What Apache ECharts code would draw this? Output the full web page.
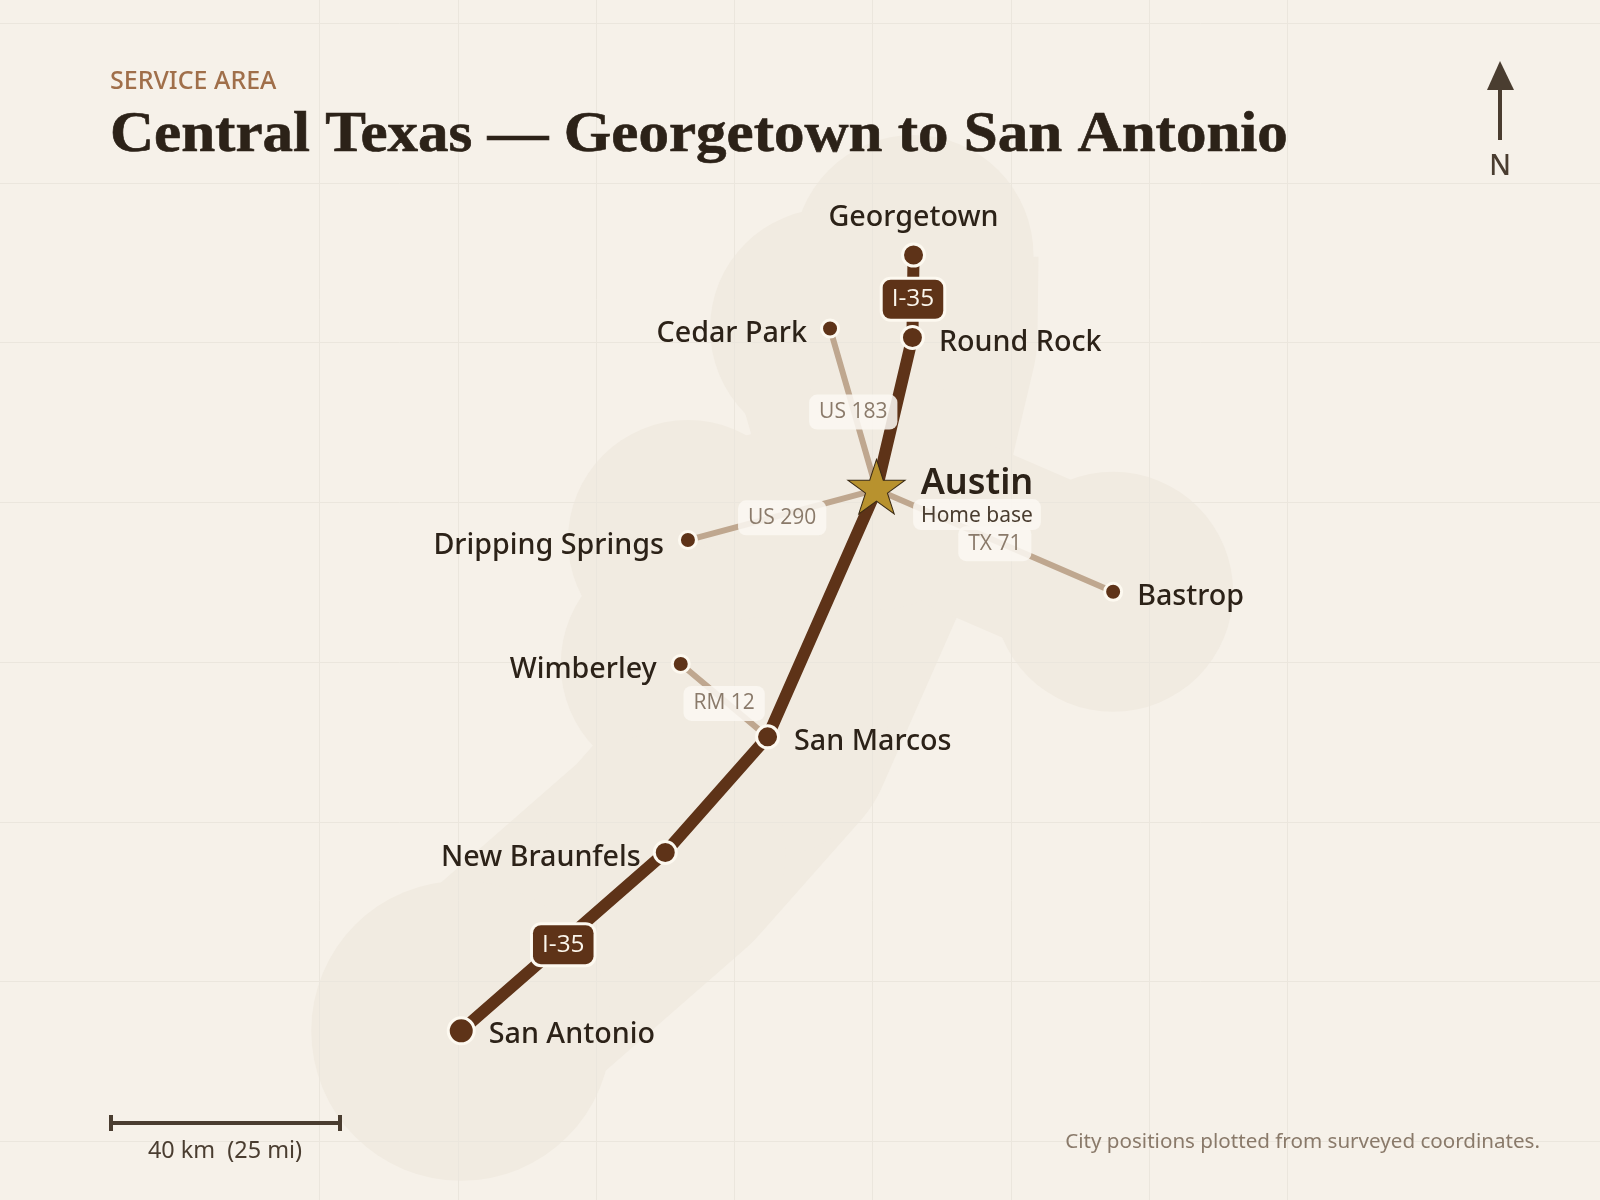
<!DOCTYPE html>
<html><head><meta charset="utf-8">
<style>html,body{margin:0;padding:0;background:#f6f1e9}#c{width:1600px;height:1200px}</style>
<script src="https://cdn.jsdelivr.net/npm/echarts@6/dist/echarts.min.js"></script>
</head><body><div id="c"></div>
<script>
const cityNames = ['Georgetown','Round Rock','Cedar Park','Austin','Bastrop','Dripping Springs','Wimberley','San Marcos','New Braunfels','San Antonio'];
const cityLon = [-97.676,-97.678,-97.827,-97.743,-97.315,-98.084,-98.097,-97.940,-98.125,-98.494];
const cityLat = [30.637,30.508,30.522,30.270,30.110,30.191,29.997,29.883,29.702,29.423];
const i35Cities = ['Georgetown','Round Rock','Austin','San Marcos','New Braunfels','San Antonio'];
const spokeRoutes = [['US 183','Cedar Park','Austin'],['US 290','Dripping Springs','Austin'],['TX 71','Bastrop','Austin'],['RM 12','Wimberley','San Marcos']];
const i35Shields = [['I-35','Georgetown','Round Rock'],['I-35','New Braunfels','San Antonio']];
const FONT = '"Noto Sans", sans-serif';
const FONT2 = '"Open Sans", sans-serif';
const pt = n => { const i = cityNames.indexOf(n); return [cityLon[i], cityLat[i]]; };
const mid = (a,b) => { const p=pt(a), q=pt(b); return [(p[0]+q[0])/2,(p[1]+q[1])/2]; };
const BLOB='#f1ebe1', ROAD='#5e3318', SPOKE='#bfa78f', HALO='#fdf9f0', INK='#2c2218', SOFT='#4a3d30', MUTE='#8a7a6a', NONE='rgba(0,0,0,0)', PILL='rgba(251,247,241,0.88)';
const i35Path = i35Cities.map(pt);
const areaWidth = {'US 183':210,'US 290':172,'TX 71':172,'RM 12':172};
const sizes = {'Georgetown':22,'Round Rock':22,'Cedar Park':17,'Bastrop':17,'Dripping Springs':17,'Wimberley':17,'San Marcos':22,'New Braunfels':22,'San Antonio':26};
const place = {
 'Georgetown':{position:'top',distance:14,offset:[0,4]},
 'Round Rock':{position:'right',distance:14,offset:[0,5]},
 'Cedar Park':{position:'left',distance:13,offset:[0,5]},
 'Bastrop':{position:'right',distance:14,offset:[0,5]},
 'Dripping Springs':{position:'left',distance:14,offset:[0,6]},
 'Wimberley':{position:'left',distance:14,offset:[0,6]},
 'San Marcos':{position:'right',distance:14,offset:[0,5]},
 'New Braunfels':{position:'left',distance:12,offset:[0,5]},
 'San Antonio':{position:'right',distance:13,offset:[0,4]}
};
const line = (name,points,color,width,z,cap) => ({type:'line',name,data:points,z,silent:true,showSymbol:false,symbol:'none',smooth:false,clip:false,
  lineStyle:{color,width,cap:cap||'round',join:'round',opacity:1}});
const series = [];
series.push(line('area-i35',i35Path,BLOB,250,0,'butt'));
spokeRoutes.forEach(r=>series.push(line('area-'+r[0],[pt(r[1]),pt(r[2])],BLOB,areaWidth[r[0]],0)));
series.push({type:'scatter',name:'area-cities',z:0,silent:true,data:cityNames.map(pt),
  symbolSize:(v,p)=>cityNames[p.dataIndex]==='San Antonio'?300:240,itemStyle:{color:BLOB,opacity:1}});
spokeRoutes.forEach(r=>series.push(line(r[0],[pt(r[1]),pt(r[2])],SPOKE,6,3)));
series.push(line('I-35',i35Path,ROAD,12,4));
series.push({type:'scatter',name:'cities',z:6,silent:true,
  data:cityNames.filter(n=>n!=='Austin').map(n=>({name:n,value:pt(n),symbolSize:sizes[n],
     label:Object.assign({show:true,formatter:n,fontFamily:FONT,fontSize:28.7,fontWeight:500,color:INK},place[n])})),
  itemStyle:{color:ROAD,borderColor:HALO,borderWidth:3,opacity:1}});
series.push({type:'scatter',name:'Austin',z:7,silent:true,data:[pt('Austin')],
  symbol:'path://M0,-100 L22.45,-30.9 L95.1,-30.9 L36.3,11.8 L58.8,80.9 L0,38.2 L-58.8,80.9 L-36.3,11.8 L-95.1,-30.9 L-22.45,-30.9 Z',
  symbolSize:[57.3,54.5],symbolOffset:[0,-2.9],
  itemStyle:{color:'#b8922e',borderColor:'#3a2a14',borderWidth:1,opacity:1}});
const routeLabels = spokeRoutes.map(r=>({name:r[0],value:mid(r[1],r[2])}));
series.push({type:'scatter',name:'route-labels',z:8,silent:true,symbolSize:1,itemStyle:{color:NONE,opacity:1},data:routeLabels,
  label:{show:true,position:'inside',offset:[0,3],formatter:'{b}',fontFamily:FONT2,fontSize:21,color:MUTE,
    backgroundColor:PILL,borderRadius:8,padding:[8,10,6,10]}});
series.push({type:'scatter',name:'shields',z:9,silent:true,symbolSize:1,itemStyle:{color:NONE,opacity:1},
  data:i35Shields.map(s=>({name:s[0],value:mid(s[1],s[2])})),
  label:{show:true,position:'inside',offset:[0,3],formatter:'{b}',fontFamily:FONT2,fontSize:24.4,fontWeight:500,color:'#fbf6ec',
    backgroundColor:ROAD,borderColor:HALO,borderWidth:3,borderRadius:8,padding:[9,9,6,9]}});
series.push({type:'scatter',name:'home',z:10,silent:true,symbolSize:1,itemStyle:{color:NONE,opacity:1},data:[{name:'Austin',value:pt('Austin')}],
  label:{show:true,position:'right',distance:43,offset:[57,9.5],formatter:'{a|Austin}\n{b|Home base}',align:'center',
   rich:{a:{fontFamily:FONT,fontSize:36,fontWeight:600,color:INK,height:31,align:'center'},
         b:{fontFamily:FONT,fontSize:21,color:SOFT,backgroundColor:PILL,borderRadius:8,padding:[6,8,4,8],align:'center'}}}});

const chart = echarts.init(document.getElementById('c'),null,{renderer:'canvas',width:1600,height:1200});
const bare = {type:'value',z:1,interval:0.25,axisLine:{show:false},axisTick:{show:false},axisLabel:{show:false}};
const gridStyle = {show:true,lineStyle:{color:'#ebe6dd',width:1}};
chart.setOption({
 animation:false,backgroundColor:'#f6f1e9',
 grid:[
  {left:-95,right:-102,top:-136.65,bottom:-101.1,outerBoundsMode:'none',containLabel:false},
  {left:319.6,right:312.7,top:-136.65,bottom:-101.1,outerBoundsMode:'none',containLabel:false}
 ],
 xAxis:[
  Object.assign({gridIndex:0,min:-99.5,max:-96.25,splitLine:{show:false}},bare),
  Object.assign({gridIndex:1,min:-98.75,max:-97,splitLine:gridStyle},bare)
 ],
 yAxis:[
  Object.assign({gridIndex:0,min:29,max:31.25,splitLine:gridStyle},bare),
  Object.assign({gridIndex:1,min:29,max:31.25,splitLine:{show:false}},bare)
 ],
 series,
 graphic:[
  {type:'text',z:20,style:{text:'SERVICE AREA',x:110,y:82,align:'left',verticalAlign:'middle',fill:'#a06f4a',font:'500 25px "Noto Sans"'}},
  {type:'text',z:20,x:110,y:137,scaleX:1.09,style:{text:'Central Texas — Georgetown to San Antonio',x:0,y:0,align:'left',verticalAlign:'middle',fill:INK,stroke:INK,lineWidth:0.6,font:'700 56px "Liberation Serif"'}},
  {type:'line',z:20,shape:{x1:110,y1:1123,x2:340,y2:1123},style:{stroke:SOFT,lineWidth:4}},
  {type:'line',z:20,shape:{x1:111,y1:1115,x2:111,y2:1131},style:{stroke:SOFT,lineWidth:4}},
  {type:'line',z:20,shape:{x1:340,y1:1115,x2:340,y2:1131},style:{stroke:SOFT,lineWidth:4}},
  {type:'text',z:20,style:{text:'40 km  (25 mi)',x:225,y:1151,align:'center',verticalAlign:'middle',fill:SOFT,font:'23.4px "Noto Sans"'}},
  {type:'polygon',z:20,shape:{points:[[1500,61],[1487,90],[1514,90]]},style:{fill:SOFT}},
  {type:'line',z:20,shape:{x1:1500,y1:90,x2:1500,y2:140},style:{stroke:SOFT,lineWidth:4}},
  {type:'text',z:20,style:{text:'N',x:1500,y:167,align:'center',verticalAlign:'middle',fill:SOFT,font:'500 28px "Noto Sans"'}},
  {type:'text',z:20,style:{text:'City positions plotted from surveyed coordinates.',x:1540,y:1142,align:'right',verticalAlign:'middle',fill:MUTE,font:'20.6px "Noto Sans"'}}
 ]
});
</script></body></html>
